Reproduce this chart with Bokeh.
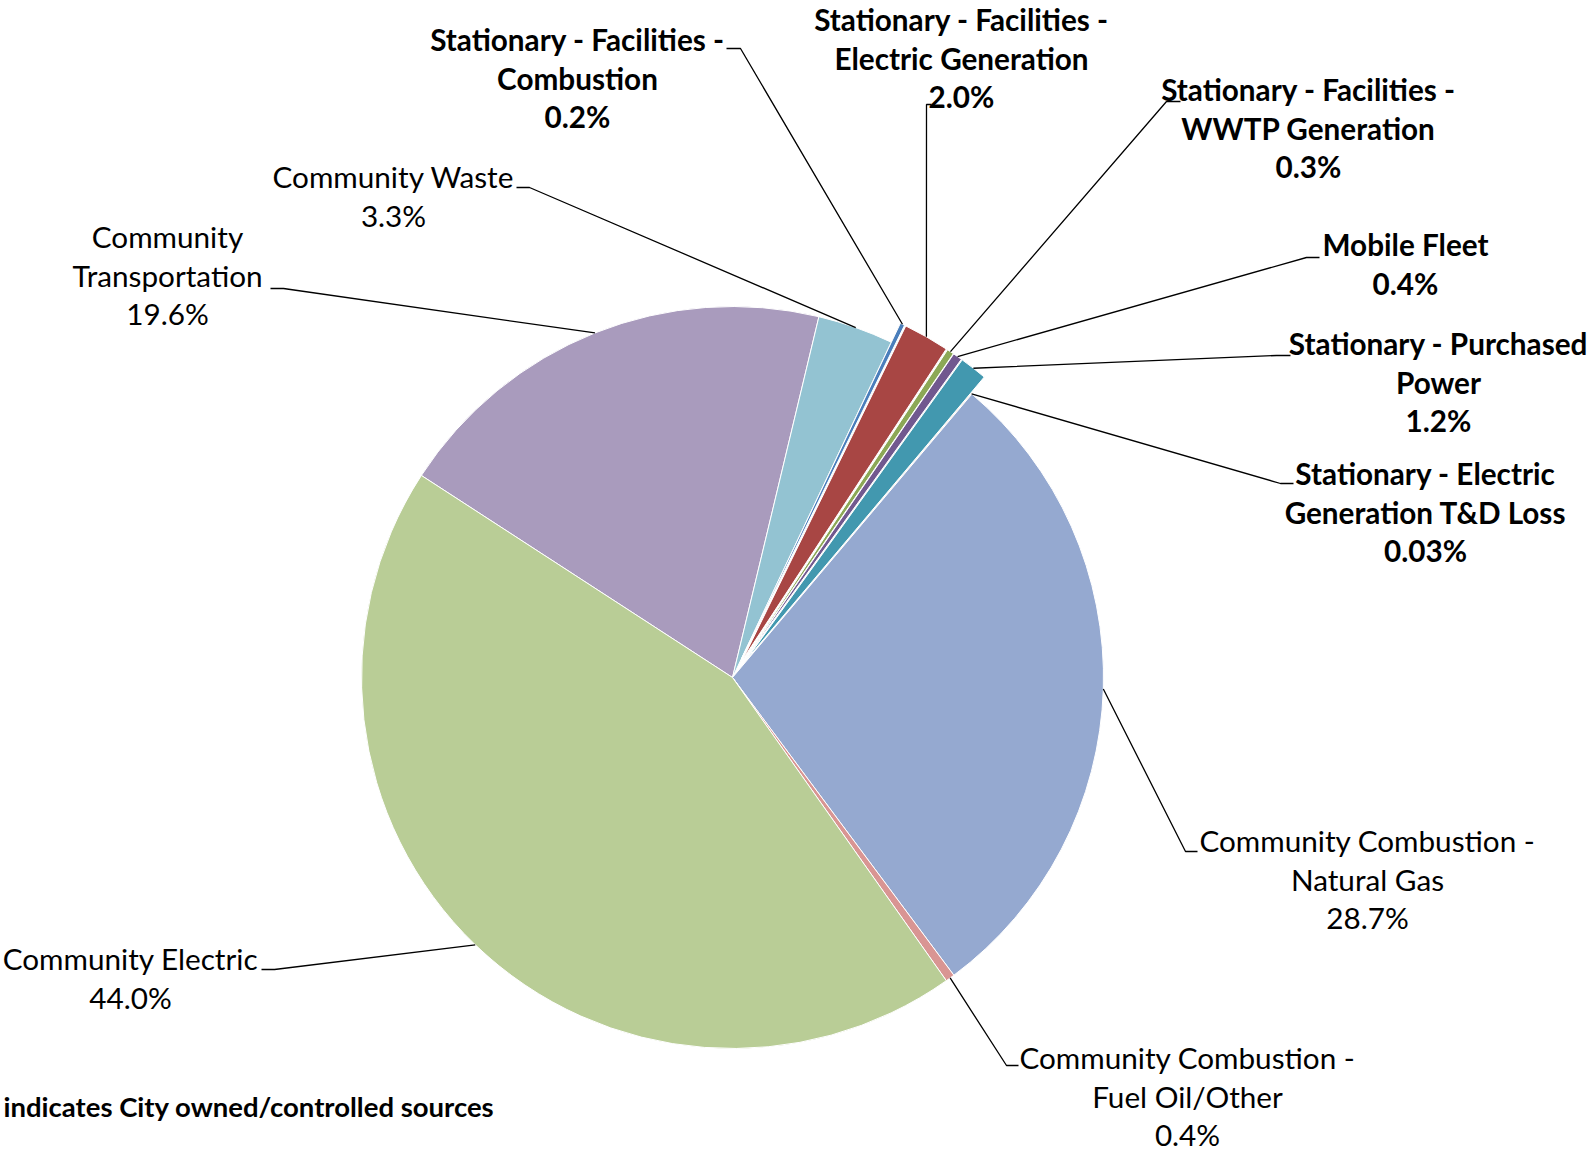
import math
from bokeh.plotting import figure
from bokeh.models import Range1d, ColumnDataSource
from bokeh.embed import file_html
from bokeh.resources import INLINE
from bokeh.core.properties import value

# ---------------- data ----------------
categories = [
    "Community Transportation",
    "Community Waste",
    "Stationary - Facilities - Combustion",
    "Stationary - Facilities - Electric Generation",
    "Stationary - Facilities - WWTP Generation",
    "Mobile Fleet",
    "Stationary - Purchased Power",
    "Stationary - Electric Generation T&D Loss",
    "Community Combustion - Natural Gas",
    "Community Combustion - Fuel Oil/Other",
    "Community Electric",
]
shares = [19.6, 3.3, 0.2, 2.0, 0.3, 0.4, 1.2, 0.03, 28.7, 0.4, 44.0]
pct_labels = ["19.6%", "3.3%", "0.2%", "2.0%", "0.3%", "0.4%", "1.2%", "0.03%", "28.7%", "0.4%", "44.0%"]
city_owned = [False, False, True, True, True, True, True, True, False, False, False]
label_lines = [
    ["Community", "Transportation"],
    ["Community Waste"],
    ["Stationary - Facilities -", "Combustion"],
    ["Stationary - Facilities -", "Electric Generation"],
    ["Stationary - Facilities -", "WWTP Generation"],
    ["Mobile Fleet"],
    ["Stationary - Purchased", "Power"],
    ["Stationary - Electric", "Generation T&D Loss"],
    ["Community Combustion -", "Natural Gas"],
    ["Community Combustion -", "Fuel Oil/Other"],
    ["Community Electric"],
]
note_text = "indicates City owned/controlled sources"

# ---------------- style / layout ----------------
colors = ["#A99BBD", "#93C3D2", "#4A7EBB", "#A84644", "#8CA856", "#71588F",
          "#4298AF", "#F79646", "#95A9D0", "#D99593", "#B9CD96"]
explode = [0, 0, 21, 21, 21, 21, 21, 0, 0, 0, 0]
CX, CY, R = 732, 677, 371
START = 303.0  # clockwise from 12 o'clock
LINE_H = 38.7
FONT = "Lato"
FSIZE = "29.7px"
TEXT_DY = -2

# label block: (center x, first line y) in page pixels
label_pos = [(167, 238), (393, 178), (577, 41), (961, 21), (1308, 91), (1405, 246),
             (1438, 345), (1425, 475), (1367, 842), (1187, 1059), (130, 960)]
# leader tick: (outer x, bend x, y)
ticks = [(270, 283, 288), (516, 529, 187), (726, 740, 48), (931, 926, 104),
         (1180, 1166, 101), (1319, 1306, 257), (1290, 1276, 355), (1293, 1280, 483),
         (1197, 1185, 851), (1018, 1006, 1065), (261, 274, 969)]

W, H = 1596, 1152
p = figure(width=W, height=H, output_backend="svg", toolbar_location=None,
           x_range=Range1d(0, W), y_range=Range1d(-H, 0),
           min_border=0, outline_line_color=None)
p.xaxis.visible = False
p.yaxis.visible = False
p.grid.visible = False
p.background_fill_color = "white"
p.border_fill_color = "white"

total = sum(shares)
xs, ys, sa, ea, mids = [], [], [], [], []
theta = START
for v, e in zip(shares, explode):
    span = v / total * 360.0
    t0, t1 = theta, theta + span
    tm = (t0 + t1) / 2.0
    mids.append(tm)
    rad = math.radians(tm)
    xs.append(CX + e * math.sin(rad))
    ys.append(-(CY - e * math.cos(rad)))
    sa.append(math.radians(90.0 - t1))
    ea.append(math.radians(90.0 - t0))
    theta = t1

src = ColumnDataSource(dict(x=xs, y=ys, sa=sa, ea=ea, color=colors))
p.wedge(x="x", y="y", radius=R, start_angle="sa", end_angle="ea",
        direction="anticlock", fill_color="color", line_color="white", line_width=1,
        source=src)

# leader lines
lx, ly = [], []
for i, tm in enumerate(mids):
    rad = math.radians(tm)
    rr = R + explode[i]
    px = CX + rr * math.sin(rad)
    py = CY - rr * math.cos(rad)
    ox, bx, ty = ticks[i]
    lx.append([ox, bx, px])
    ly.append([-ty, -ty, -py])
p.multi_line(lx, ly, line_color="black", line_width=1.3)

# labels
tx, ty_, tt, ts = [], [], [], []
for i in range(len(categories)):
    cx, y0 = label_pos[i]
    lines = label_lines[i] + [pct_labels[i]]
    for j, ln in enumerate(lines):
        tx.append(cx)
        ty_.append(-(y0 + TEXT_DY + j * LINE_H))
        tt.append(ln)
        ts.append("bold" if city_owned[i] else "normal")
tsrc = ColumnDataSource(dict(x=tx, y=ty_, text=tt, style=ts))
p.text(x="x", y="y", text="text", source=tsrc, text_align="center",
       text_baseline="middle", text_font=value(FONT), text_font_size=FSIZE,
       text_font_style="style", text_color="black")

p.text(x=[3], y=[-1106], text=[note_text], text_align="left", text_baseline="middle",
       text_font=value(FONT), text_font_size="27.5px", text_font_style="bold",
       text_color="black")

open("out.html", "w").write(file_html(p, INLINE))
